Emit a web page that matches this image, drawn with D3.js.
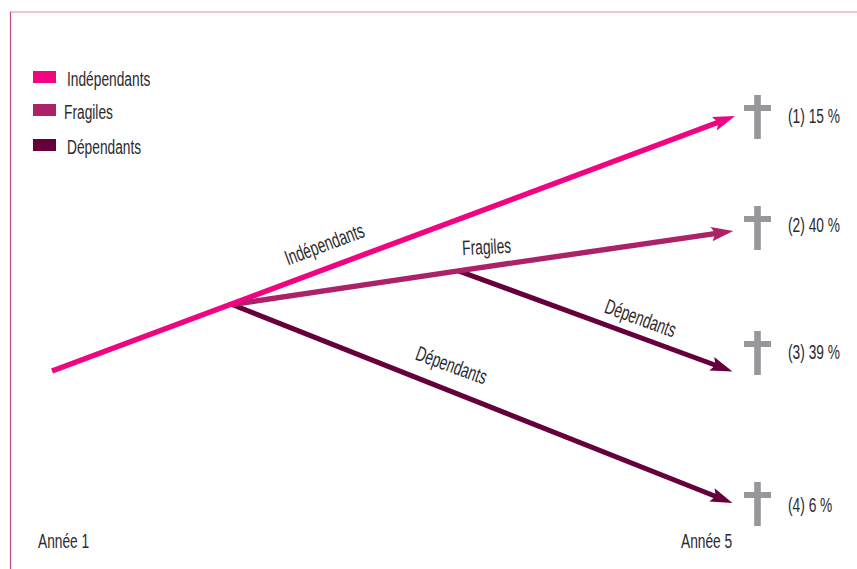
<!DOCTYPE html>
<html><head><meta charset="utf-8">
<script src="https://cdn.jsdelivr.net/npm/d3@7/dist/d3.min.js"></script>
<style>html,body{margin:0;padding:0;background:#fff}svg{display:block}
text{font-family:"Liberation Sans",sans-serif;fill:#2b2a2e}</style>
</head><body><svg id="c" width="857" height="569"></svg>
<script>
// Categories and colours
const categories = ["Indépendants","Fragiles","Dépendants"];
const colors = ["#f0047f","#ab2268","#65003c"];
// Paths: [year, position on a 0–100 vertical scale]
const pathIndependants = [[1,34.1],[5,100]];
const pathFragiles = [[2.054,51.3],[3.38,60],[4.99,70.3]];
const pathDependants1 = [[2.054,51.3],[4.985,0]];
const pathDependants2 = [[3.38,60],[4.985,34]];
const outcomes = ["(1) 15 %","(2) 40 %","(3) 39 %","(4) 6 %"];
const yearLabels = ["Année 1","Année 5"];

const x = d3.scaleLinear().domain([1,5]).range([52,735]);
const y = d3.scaleLinear().domain([0,100]).range([503,116]);
const svg = d3.select("#c");
const SX = 0.655, FS = 21;
const trim = 15;
function arrowPath(pts){
  const p = pts.map(d=>[x(d[0]),y(d[1])]);
  const a = p[p.length-2], b = p[p.length-1];
  const L = Math.hypot(b[0]-a[0],b[1]-a[1]);
  p[p.length-1] = [b[0]-(b[0]-a[0])*trim/L, b[1]-(b[1]-a[1])*trim/L];
  return d3.line()(p);
}

// frame
svg.append("line").attr("x1",10).attr("x2",857).attr("y1",12).attr("y2",12).attr("stroke","#e08ab5").attr("stroke-width",1.2);
svg.append("line").attr("x1",10.5).attr("x2",10.5).attr("y1",12).attr("y2",569).attr("stroke","#c9468d").attr("stroke-width",1.2);

// arrows
const defs = svg.append("defs");
colors.forEach((c,i)=>{
  defs.append("marker").attr("id","a"+i).attr("markerUnits","userSpaceOnUse")
    .attr("viewBox","-8 -9 24 18").attr("markerWidth",24).attr("markerHeight",18)
    .attr("refX",0).attr("refY",0).attr("orient","auto")
    .append("path").attr("d","M15,0L-7,-7.2L-3,0L-7,7.2Z").attr("fill",c);
});
const series = [[pathDependants1,2,5],[pathDependants2,2,5],[pathFragiles,1,5.4],[pathIndependants,0,5.4]];
svg.selectAll("path.s").data(series).join("path").attr("class","s")
  .attr("d",d=>arrowPath(d[0])).attr("fill","none").attr("stroke",d=>colors[d[1]])
  .attr("stroke-width",d=>d[2]).attr("stroke-linejoin","round")
  .attr("marker-end",d=>`url(#a${d[1]})`);

// legend
const legX=[67,64,67], legY=[77,110,145];
const leg = svg.selectAll("g.l").data(categories).join("g").attr("class","l");
leg.append("rect").attr("x",33).attr("y",(d,i)=>legY[i]-6).attr("width",23).attr("height",12).attr("fill",(d,i)=>colors[i]);
leg.append("text").attr("transform",(d,i)=>`translate(${legX[i]},${legY[i]+9}) scale(${SX},1)`).attr("font-size",FS).text(d=>d);

// crosses
const g = svg.selectAll("g.o").data(outcomes).join("g").attr("class","o")
 .attr("transform",(d,i)=>`translate(757.5,${[117,228,353,504][i]})`);
g.append("rect").attr("x",-3.3).attr("y",-22).attr("width",6.6).attr("height",44).attr("fill","#97979b");
g.append("rect").attr("x",-13.5).attr("y",-12).attr("width",27).attr("height",6).attr("fill","#97979b");
g.append("text").attr("transform",(d,i)=>`translate(30.5,${[6,4,6,8][i]}) scale(${SX},1)`).attr("font-size",FS).text(d=>d);

// line labels
const tl=[["Indépendants",327,251,-20.5],["Fragiles",487,254,-3],["Dépendants",638,325,20],["Dépendants",449,372,20]];
svg.selectAll("text.t").data(tl).join("text").attr("class","t").attr("text-anchor","middle").attr("font-size",FS)
 .attr("transform",d=>`translate(${d[1]},${d[2]}) rotate(${d[3]}) scale(${SX},1)`).text(d=>d[0]);
// years
svg.append("text").attr("transform",`translate(38,548) scale(${SX},1)`).attr("font-size",FS).text(yearLabels[0]);
svg.append("text").attr("transform",`translate(681,548) scale(${SX},1)`).attr("font-size",FS).text(yearLabels[1]);
</script></body></html>
